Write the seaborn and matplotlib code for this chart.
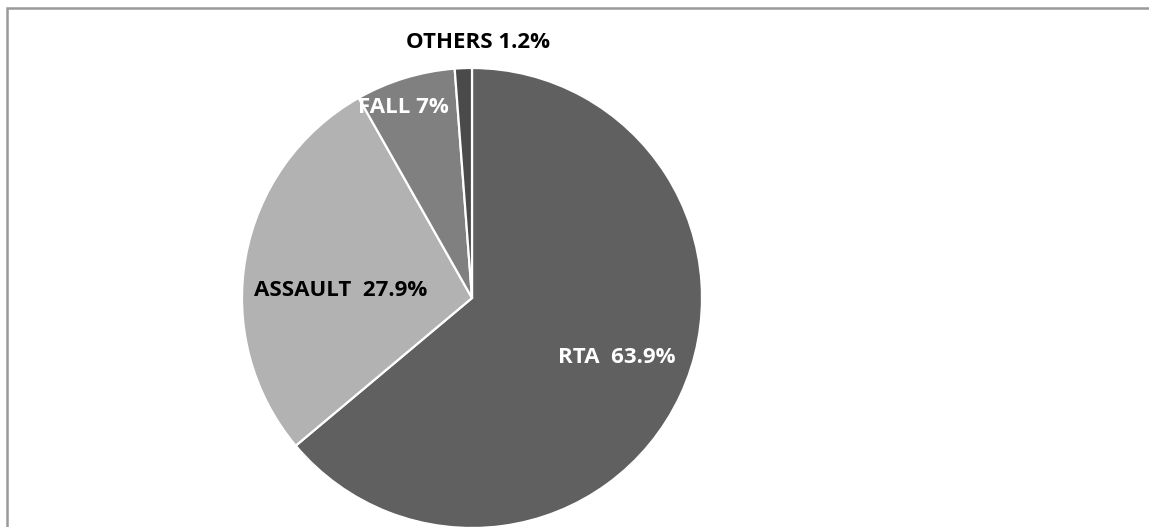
import numpy as np
import matplotlib
matplotlib.use("Agg")
import matplotlib.pyplot as plt
from matplotlib.patches import Rectangle
import seaborn as sns

# Share of injury mechanisms (%)
categories = ["RTA", "ASSAULT", "FALL", "OTHERS"]
shares = [63.9, 27.9, 7.0, 1.2]
label_texts = ["RTA  63.9%", "ASSAULT  27.9%", "FALL 7%", "OTHERS 1.2%"]

slice_colors = ["#606060", "#b2b2b2", "#808080", "#4a4a4a"]
text_colors = ["white", "black", "white", "black"]
# radial position (fraction of radius) and angular nudge (degrees) of each label
label_radius = [0.68, 0.57, 0.88, 1.11]
label_nudge = [2.5, 7.0, 3.0, -3.5]

sns.set_theme(style="white")
plt.rcParams["font.family"] = ["Open Sans", "DejaVu Sans"]

W, H = 1149, 527
fig = plt.figure(figsize=(W / 100, H / 100), dpi=100)
ax = fig.add_axes([0, 0, 1, 1])

cx, cy, R = 472, H - 298, 230
wedges, _ = ax.pie(
    shares,
    colors=slice_colors,
    startangle=90,
    counterclock=False,
    center=(cx, cy),
    radius=R,
    wedgeprops=dict(edgecolor="white", linewidth=1.6),
)
ax.set_xlim(0, W)
ax.set_ylim(0, H)
ax.set_aspect("equal")
ax.axis("off")

for w, txt, col, rf, nd in zip(wedges, label_texts, text_colors, label_radius, label_nudge):
    mid = np.deg2rad((w.theta1 + w.theta2) / 2 + nd)
    x = cx + rf * R * np.cos(mid)
    y = cy + rf * R * np.sin(mid)
    ax.text(x, y, txt, ha="center", va="center", color=col,
            fontsize=16, fontweight="bold")

# chart-area frame (right and bottom sides fall outside the canvas)
fig.patches.append(Rectangle((7 / W, -0.1), 1.2, (H - 8) / H + 0.1,
                             transform=fig.transFigure, fill=False,
                             edgecolor="#9a9a9a", linewidth=1.8))

fig.savefig("out.png", dpi=100, facecolor="white")
